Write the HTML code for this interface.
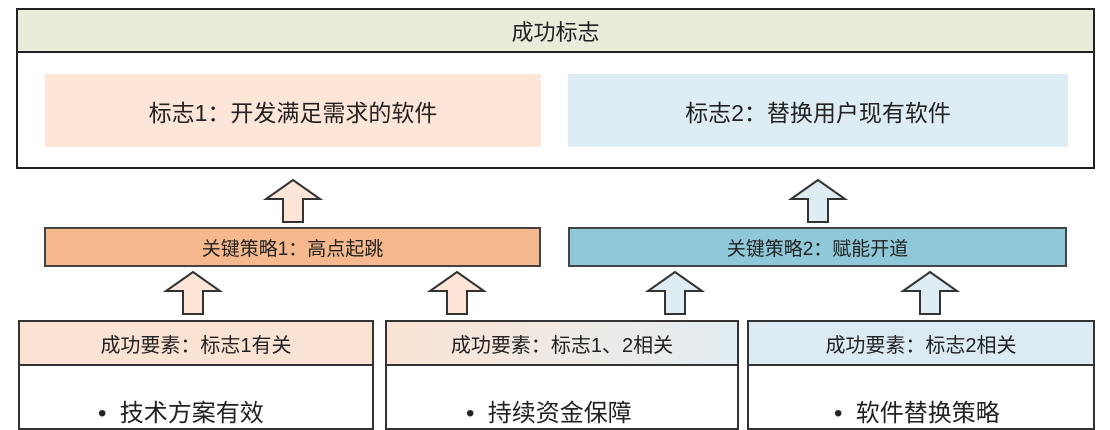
<!DOCTYPE html>
<html><head><meta charset="utf-8"><style>
body{margin:0;width:1110px;height:417px;background:#fff;position:relative;overflow:hidden;font-family:"Liberation Sans","Noto Sans CJK SC",sans-serif;color:#222}
.a{position:absolute;box-sizing:border-box}
.c{display:flex;align-items:center;justify-content:center}
</style></head><body>
<div class="a" style="left:16px;top:8px;width:1079px;height:161px;border:2px solid #222"></div>
<div class="a c" style="left:18px;top:10px;width:1075px;height:43px;background:#e9ebdb;border-bottom:2px solid #222;font-size:22px">成功标志</div>
<div class="a c" style="left:45px;top:74px;width:496px;height:73px;background:#fde6d8;font-size:23px">标志1：开发满足需求的软件</div>
<div class="a c" style="left:568px;top:74px;width:500px;height:73px;background:#deedf4;font-size:23px">标志2：替换用户现有软件</div>

<div class="a c" style="left:44px;top:227px;width:497px;height:40px;background:#f6b98e;border:2px solid #444;font-size:19px">关键策略1：高点起跳</div>
<div class="a c" style="left:568px;top:227px;width:499px;height:40px;background:#8fc8d9;border:2px solid #444;font-size:19px">关键策略2：赋能开道</div>

<svg class="a" style="left:0;top:0" width="1110" height="417">
<defs>
<g id="ar"><path d="M-10,42 L-10,19 L-27,19 L0,0 L27,19 L10,19 L10,42 Z" stroke="#333" stroke-width="2"/></g>
</defs>
<use href="#ar" x="293" y="180" fill="#fde6d8"/>
<use href="#ar" x="818" y="180" fill="#deedf4"/>
<use href="#ar" x="193" y="272" fill="#fde6d8"/>
<use href="#ar" x="457" y="272" fill="#fde6d8"/>
<use href="#ar" x="675" y="272" fill="#deedf4"/>
<use href="#ar" x="930" y="272" fill="#deedf4"/>
</svg>

<div class="a" style="left:18px;top:320px;width:356px;height:110px;border:2px solid #333"></div>
<div class="a c" style="left:20px;top:322px;width:352px;height:44px;background:#fbe3d4;border-bottom:2px solid #333;font-size:20px">成功要素：标志1有关</div>
<div class="a" style="left:98px;top:393px;font-size:24px">•&nbsp; 技术方案有效</div>

<div class="a" style="left:385px;top:320px;width:354px;height:110px;border:2px solid #333"></div>
<div class="a c" style="left:387px;top:322px;width:350px;height:44px;background:linear-gradient(90deg,#fbe3d4,#e3eef3);border-bottom:2px solid #333;font-size:20px">成功要素：标志1、2相关</div>
<div class="a" style="left:466px;top:393px;font-size:24px">•&nbsp; 持续资金保障</div>

<div class="a" style="left:747px;top:320px;width:348px;height:110px;border:2px solid #333"></div>
<div class="a c" style="left:749px;top:322px;width:344px;height:44px;background:#dcebf3;border-bottom:2px solid #333;font-size:20px">成功要素：标志2相关</div>
<div class="a" style="left:834px;top:393px;font-size:24px">•&nbsp; 软件替换策略</div>
</body></html>
